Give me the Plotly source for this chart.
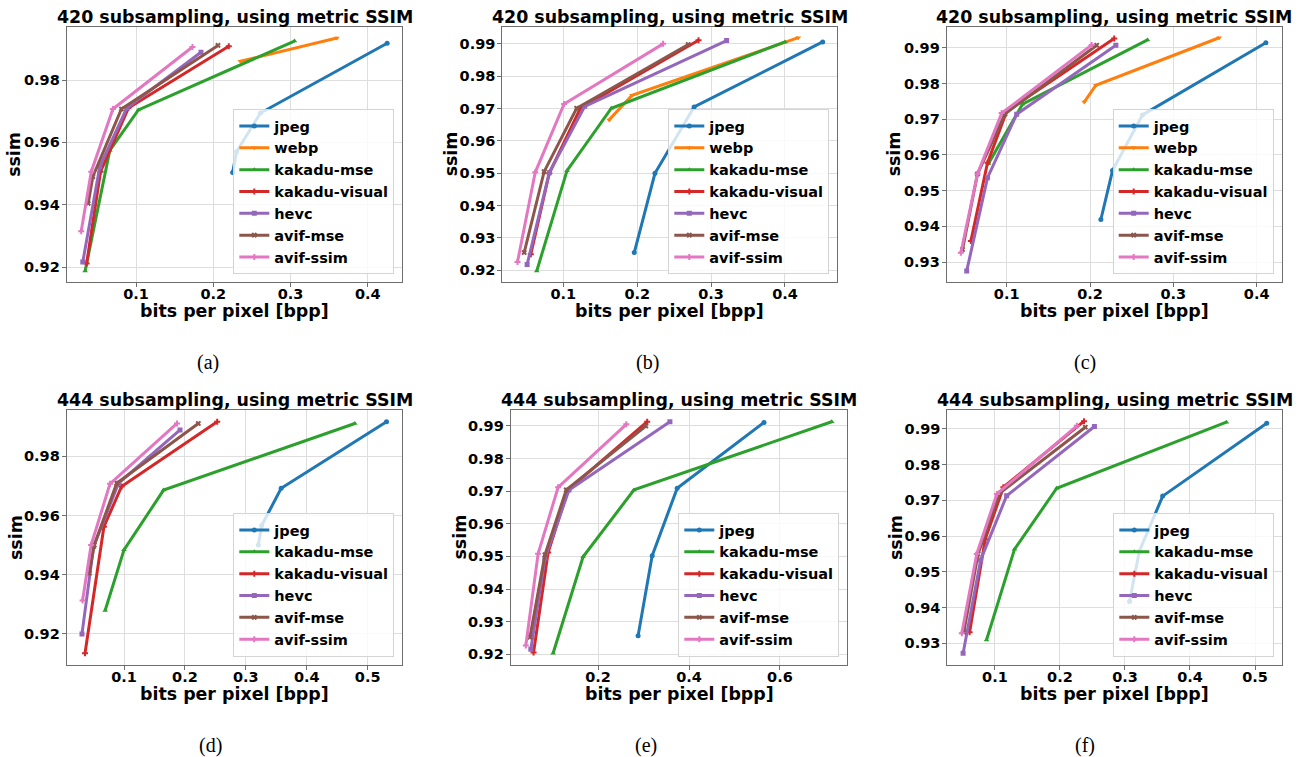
import plotly.graph_objects as go

W, H = 1305, 757

CODECS_420 = ["jpeg", "webp", "kakadu-mse", "kakadu-visual", "hevc", "avif-mse", "avif-ssim"]
CODECS_444 = ["jpeg", "kakadu-mse", "kakadu-visual", "hevc", "avif-mse", "avif-ssim"]
COLORS = {"jpeg": "#1f77b4", "webp": "#ff7f0e", "kakadu-mse": "#2ca02c", "kakadu-visual": "#d62728",
          "hevc": "#9467bd", "avif-mse": "#8c564b", "avif-ssim": "#e377c2"}
SYMBOLS = {"jpeg": "circle", "webp": "triangle-down", "kakadu-mse": "triangle-up", "kakadu-visual": "cross",
           "hevc": "square", "avif-mse": "x", "avif-ssim": "cross"}

TITLES = ["420 subsampling, using metric SSIM"] * 3 + ["444 subsampling, using metric SSIM"] * 3
CAPTIONS = ["(a)", "(b)", "(c)", "(d)", "(e)", "(f)"]

# ---- data (bits per pixel, ssim) ----
a_bpp = {"jpeg": [0.225, 0.230, 0.261, 0.425], "webp": [0.235, 0.360],
         "kakadu-mse": [0.034, 0.066, 0.103, 0.305], "kakadu-visual": [0.036, 0.054, 0.090, 0.220],
         "hevc": [0.031, 0.053, 0.088, 0.184], "avif-mse": [0.038, 0.044, 0.081, 0.206],
         "avif-ssim": [0.029, 0.042, 0.070, 0.173]}
a_ssim = {"jpeg": [0.9503, 0.957, 0.9694, 0.9918], "webp": [0.986, 0.9935],
          "kakadu-mse": [0.9187, 0.9574, 0.9704, 0.9925], "kakadu-visual": [0.9211, 0.9506, 0.971, 0.9908],
          "hevc": [0.9216, 0.9522, 0.971, 0.9889], "avif-mse": [0.9404, 0.949, 0.9707, 0.9911],
          "avif-ssim": [0.9315, 0.9506, 0.9707, 0.9906]}

b_bpp = {"jpeg": [0.196, 0.224, 0.277, 0.451], "webp": [0.162, 0.193, 0.418],
         "kakadu-mse": [0.064, 0.105, 0.165, 0.400], "kakadu-visual": [0.056, 0.081, 0.123, 0.283],
         "hevc": [0.051, 0.081, 0.129, 0.321], "avif-mse": [0.047, 0.074, 0.118, 0.269],
         "avif-ssim": [0.038, 0.062, 0.101, 0.235]}
b_ssim = {"jpeg": [0.9255, 0.95, 0.9705, 0.9906], "webp": [0.9665, 0.9741, 0.9919],
          "kakadu-mse": [0.9198, 0.9508, 0.9701, 0.9906], "kakadu-visual": [0.925, 0.95, 0.9701, 0.9911],
          "hevc": [0.9218, 0.9502, 0.9707, 0.991], "avif-mse": [0.9255, 0.9505, 0.9701, 0.9898],
          "avif-ssim": [0.9226, 0.9503, 0.9714, 0.990]}

c_bpp = {"jpeg": [0.213, 0.227, 0.263, 0.411], "webp": [0.193, 0.207, 0.355],
         "kakadu-mse": [0.078, 0.119, 0.269], "kakadu-visual": [0.057, 0.077, 0.100, 0.229],
         "hevc": [0.052, 0.077, 0.112, 0.231], "avif-mse": [0.047, 0.065, 0.098, 0.208],
         "avif-ssim": [0.045, 0.065, 0.094, 0.202]}
c_ssim = {"jpeg": [0.9419, 0.9556, 0.9712, 0.9914], "webp": [0.9748, 0.9795, 0.9928],
          "kakadu-mse": [0.9575, 0.9742, 0.9922], "kakadu-visual": [0.9359, 0.9578, 0.9722, 0.9926],
          "hevc": [0.9275, 0.9536, 0.9714, 0.9907], "avif-mse": [0.9335, 0.9547, 0.9715, 0.9907],
          "avif-ssim": [0.9326, 0.9547, 0.9717, 0.9908]}

d_bpp = {"jpeg": [0.3205, 0.326, 0.358, 0.531], "kakadu-mse": [0.069, 0.100, 0.165, 0.479],
         "kakadu-visual": [0.036, 0.067, 0.096, 0.253], "hevc": [0.031, 0.050, 0.091, 0.192],
         "avif-mse": [0.043, 0.051, 0.088, 0.222], "avif-ssim": [0.032, 0.046, 0.077, 0.187]}
d_ssim = {"jpeg": [0.950, 0.9566, 0.9692, 0.9917], "kakadu-mse": [0.9279, 0.9484, 0.9686, 0.9911],
          "kakadu-visual": [0.9135, 0.9562, 0.9698, 0.9917], "hevc": [0.920, 0.9495, 0.9709, 0.9889],
          "avif-mse": [0.9405, 0.950, 0.9709, 0.9911], "avif-ssim": [0.9313, 0.950, 0.9707, 0.9911]}

e_bpp = {"jpeg": [0.288, 0.319, 0.374, 0.565], "kakadu-mse": [0.101, 0.167, 0.279, 0.714],
         "kakadu-visual": [0.058, 0.090, 0.134, 0.308], "hevc": [0.052, 0.083, 0.136, 0.358],
         "avif-mse": [0.050, 0.083, 0.130, 0.305], "avif-ssim": [0.041, 0.068, 0.112, 0.262]}
e_ssim = {"jpeg": [0.9257, 0.9502, 0.9709, 0.9911], "kakadu-mse": [0.9203, 0.9499, 0.9704, 0.9913],
          "kakadu-visual": [0.9205, 0.9512, 0.9704, 0.9913], "hevc": [0.9215, 0.9494, 0.9704, 0.9913],
          "avif-mse": [0.9252, 0.9505, 0.9704, 0.990], "avif-ssim": [0.9227, 0.9508, 0.9712, 0.9905]}

f_bpp = {"jpeg": [0.307, 0.322, 0.358, 0.518], "kakadu-mse": [0.087, 0.130, 0.195, 0.456],
         "kakadu-visual": [0.061, 0.085, 0.113, 0.237], "hevc": [0.051, 0.078, 0.118, 0.253],
         "avif-mse": [0.052, 0.074, 0.107, 0.239], "avif-ssim": [0.049, 0.072, 0.103, 0.226]}
f_ssim = {"jpeg": [0.9417, 0.9557, 0.9712, 0.9916], "kakadu-mse": [0.9309, 0.9563, 0.9734, 0.9919],
          "kakadu-visual": [0.9331, 0.9591, 0.9737, 0.9922], "hevc": [0.9272, 0.9533, 0.9713, 0.9907],
          "avif-mse": [0.9331, 0.955, 0.972, 0.9905], "avif-ssim": [0.9328, 0.955, 0.9718, 0.9909]}

PANELS = [
    (CODECS_420, a_bpp, a_ssim), (CODECS_420, b_bpp, b_ssim), (CODECS_420, c_bpp, c_ssim),
    (CODECS_444, d_bpp, d_ssim), (CODECS_444, e_bpp, e_ssim), (CODECS_444, f_bpp, f_ssim),
]

# ---- layout geometry (pixels) ----
BOXES = [  # left, right, top, bottom
    (66.7, 402.3, 26.7, 282.0), (502.3, 837.3, 26.7, 282.0), (946.7, 1281.7, 26.7, 282.0),
    (66.7, 402.3, 410.0, 665.0), (510.7, 847.3, 410.0, 665.0), (947.3, 1282.3, 410.0, 665.0),
]
XRANGES = [(0.0102, 0.4446), (0.0174, 0.4708), (0.028, 0.430), (0.0059, 0.5569), (0.0077, 0.7483), (0.0267, 0.542)]
YRANGES = [(0.9152, 0.9971), (0.9164, 0.9953), (0.9244, 0.9959), (0.9095, 0.99565), (0.9167, 0.9949), (0.9239, 0.99532)]
XDT = [0.1, 0.1, 0.1, 0.1, 0.2, 0.1]
YDT = [0.02, 0.01, 0.01, 0.02, 0.01, 0.01]
YLAB_X = [14.5, 451, 894, 15.5, 459, 895.5]
CAP_POS = [(208, 362), (647, 362), (1085, 362), (210, 745), (646, 745), (1085, 745)]

FONT = "DejaVu Sans"
fig = go.Figure()
annotations = []
layout = dict(width=W, height=H, margin=dict(l=0, r=0, t=0, b=0), plot_bgcolor="white",
              paper_bgcolor="white", showlegend=True)

def px(x):
    return x / W

def py(y):
    return 1 - y / H

for i, (codecs, bpp, ssim) in enumerate(PANELS):
    n = i + 1
    sfx = "" if n == 1 else str(n)
    leg = "legend" if n == 1 else f"legend{n}"
    L, R, T, B = BOXES[i]
    for c in codecs:
        fig.add_trace(go.Scatter(
            x=bpp[c], y=ssim[c], mode="lines+markers", name=c,
            line=dict(color=COLORS[c], width=3),
            marker=dict(symbol=SYMBOLS[c], size=5, color=COLORS[c]),
            xaxis="x" + sfx, yaxis="y" + sfx, legend=leg, legendgroup=f"{n}-{c}",
        ))
    axcommon = dict(showgrid=True, gridcolor="#dedede", gridwidth=1, showline=True, linecolor="#6e6e6e",
                    linewidth=1, mirror=True, ticks="outside", ticklen=4, tickcolor="#6e6e6e",
                    tickfont=dict(family=FONT, size=14.5, color="black", weight="bold"), zeroline=False)
    layout["xaxis" + sfx] = dict(axcommon, domain=[px(L), px(R)], range=list(XRANGES[i]),
                                 anchor="y" + sfx, dtick=XDT[i], tick0=0, ticklabelstandoff=-5)
    layout["yaxis" + sfx] = dict(axcommon, domain=[py(B), py(T)], range=list(YRANGES[i]),
                                 anchor="x" + sfx, dtick=YDT[i], tick0=0, ticklabelstandoff=-1)
    layout[leg] = dict(x=px(R - 8), y=py(B - 8), xanchor="right", yanchor="bottom",
                       bgcolor="rgba(255,255,255,0.8)", bordercolor="#d4d4d4", borderwidth=1,
                       font=dict(family=FONT, size=14.5, color="black", weight="bold"),
                       tracegroupgap=0, itemwidth=30)
    cx = (L + R) / 2
    annotations.append(dict(text=TITLES[i], x=px(cx), y=py(T - 10), xref="paper", yref="paper",
                            showarrow=False, xanchor="center", yanchor="middle",
                            font=dict(family=FONT, size=17.4, color="black", weight="bold")))
    annotations.append(dict(text="bits per pixel [bpp]", x=px(cx), y=py(B + 29), xref="paper", yref="paper",
                            showarrow=False, xanchor="center", yanchor="middle",
                            font=dict(family=FONT, size=17.4, color="black", weight="bold")))
    annotations.append(dict(text="ssim", x=px(YLAB_X[i]), y=py((T + B) / 2), xref="paper", yref="paper",
                            showarrow=False, xanchor="center", yanchor="middle", textangle=-90,
                            font=dict(family=FONT, size=17.4, color="black", weight="bold")))
    annotations.append(dict(text=CAPTIONS[i], x=px(CAP_POS[i][0]), y=py(CAP_POS[i][1]), xref="paper",
                            yref="paper", showarrow=False, xanchor="center", yanchor="middle",
                            font=dict(family="Liberation Serif", size=20, color="black")))

layout["annotations"] = annotations
fig.update_layout(**layout)
fig.write_html("out.html", config={"displayModeBar": False},
               post_script="document.body.style.margin='0';document.body.style.overflow='hidden';")
